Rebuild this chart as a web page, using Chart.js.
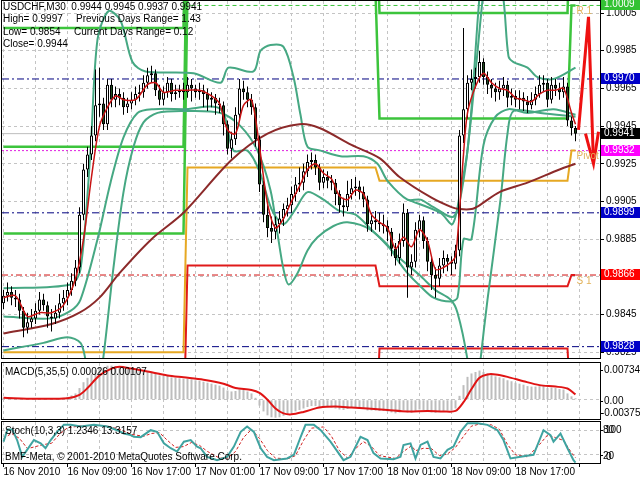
<!DOCTYPE html>
<html>
<head>
<meta charset="utf-8">
<script src="https://cdn.jsdelivr.net/npm/chart.js@4.4.1/dist/chart.umd.min.js"></script>
<style>
  html, body { margin: 0; padding: 0; background: #fff; }
  #wrap { position: relative; width: 640px; height: 480px; overflow: hidden; background: #fff; }
  #wrap canvas { position: absolute; left: 0; }
</style>
</head>
<body>
<div id="wrap">
  <canvas id="mainChart" width="640" height="360" style="top:0"></canvas>
  <canvas id="macdChart" width="640" height="60" style="top:360px"></canvas>
  <canvas id="stochChart" width="640" height="60" style="top:420px"></canvas>
</div>
<script>
// USDCHF M30 bars, 16 Nov 01:00 -> 19 Nov 00:30 (one entry per bar)
const opens = [
  0.9851,0.9855,0.9857,0.9854,0.9853,0.9847,0.9838,0.9841,0.9843,0.9847,
  0.9853,0.9850,0.9844,0.9843,0.9846,0.9851,0.9854,0.9858,0.9863,0.9870,
  0.9898,0.9922,0.9930,0.9940,0.9956,0.9957,0.9946,0.9967,0.9959,0.9962,
  0.9960,0.9955,0.9957,0.9959,0.9962,0.9963,0.9968,0.9972,0.9973,0.9964,
  0.9959,0.9963,0.9968,0.9962,0.9963,0.9964,0.9963,0.9967,0.9965,0.9963,
  0.9964,0.9962,0.9959,0.9960,0.9957,0.9956,0.9946,0.9933,0.9938,0.9951,
  0.9965,0.9963,0.9959,0.9955,0.9938,0.9914,0.9898,0.9891,0.9889,0.9893,
  0.9896,0.9901,0.9903,0.9909,0.9914,0.9915,0.9921,0.9926,0.9927,0.9923,
  0.9915,0.9918,0.9916,0.9915,0.9909,0.9903,0.9902,0.9909,0.9912,0.9913,
  0.9910,0.9906,0.9893,0.9895,0.9894,0.9893,0.9892,0.9889,0.9880,0.9875,
  0.9884,0.9899,0.9870,0.9873,0.9890,0.9895,0.9884,0.9873,0.9866,0.9864,
  0.9871,0.9875,0.9873,0.9872,0.9879,0.9940,0.9954,0.9968,0.9970,0.9971,
  0.9979,0.9971,0.9967,0.9965,0.9963,0.9965,0.9967,0.9960,0.9961,0.9959,
  0.9960,0.9958,0.9956,0.9959,0.9962,0.9967,0.9968,0.9959,0.9967,0.9965,
  0.9963,0.9966,0.9948,0.9944
];
const highs = [
  0.9858,0.9862,0.9860,0.9858,0.9856,0.9849,0.9846,0.9848,0.9851,0.9857,
  0.9856,0.9852,0.9848,0.9850,0.9856,0.9858,0.9862,0.9867,0.9874,0.9902,
  0.9925,0.9934,0.9945,0.9975,0.9976,0.9960,0.9970,0.9970,0.9966,0.9965,
  0.9963,0.9960,0.9963,0.9966,0.9967,0.9972,0.9976,0.9977,0.9975,0.9967,
  0.9966,0.9971,0.9970,0.9967,0.9967,0.9968,0.9971,0.9970,0.9967,0.9968,
  0.9967,0.9965,0.9963,0.9962,0.9960,0.9958,0.9948,0.9942,0.9955,0.9970,
  0.9969,0.9966,0.9962,0.9957,0.9940,0.9916,0.9903,0.9897,0.9897,0.9900,
  0.9904,0.9907,0.9913,0.9918,0.9923,0.9925,0.9930,0.9931,0.9930,0.9925,
  0.9922,0.9921,0.9919,0.9917,0.9911,0.9907,0.9916,0.9917,0.9918,0.9916,
  0.9913,0.9908,0.9899,0.9900,0.9899,0.9898,0.9895,0.9891,0.9883,0.9888,
  0.9904,0.9901,0.9877,0.9894,0.9898,0.9897,0.9886,0.9876,0.9870,0.9875,
  0.9879,0.9877,0.9876,0.9882,0.9943,0.9997,0.9972,0.9975,0.9976,0.9985,
  0.9981,0.9974,0.9970,0.9968,0.9969,0.9971,0.9969,0.9965,0.9964,0.9964,
  0.9963,0.9961,0.9963,0.9966,0.9972,0.9972,0.9970,0.9971,0.9970,0.9968,
  0.9971,0.9968,0.9950,0.9945
];
const lows = [
  0.9848,0.9852,0.9850,0.9849,0.9843,0.9833,0.9835,0.9838,0.9840,0.9845,
  0.9847,0.9838,0.9836,0.9840,0.9843,0.9847,0.9850,0.9855,0.9860,0.9867,
  0.9895,0.9918,0.9927,0.9937,0.9950,0.9943,0.9943,0.9955,0.9955,0.9956,
  0.9951,0.9952,0.9954,0.9956,0.9958,0.9960,0.9965,0.9968,0.9961,0.9956,
  0.9956,0.9960,0.9958,0.9959,0.9960,0.9959,0.9960,0.9958,0.9960,0.9959,
  0.9955,0.9953,0.9955,0.9951,0.9952,0.9940,0.9930,0.9928,0.9935,0.9948,
  0.9959,0.9955,0.9951,0.9934,0.9910,0.9894,0.9886,0.9883,0.9885,0.9888,
  0.9892,0.9897,0.9899,0.9905,0.9910,0.9911,0.9918,0.9922,0.9919,0.9911,
  0.9912,0.9912,0.9911,0.9903,0.9899,0.9897,0.9900,0.9906,0.9908,0.9906,
  0.9902,0.9889,0.9889,0.9890,0.9889,0.9888,0.9884,0.9876,0.9871,0.9872,
  0.9881,0.9854,0.9866,0.9870,0.9886,0.9880,0.9868,0.9858,0.9854,0.9860,
  0.9867,0.9868,0.9866,0.9869,0.9876,0.9936,0.9949,0.9964,0.9965,0.9968,
  0.9967,0.9962,0.9960,0.9958,0.9959,0.9961,0.9955,0.9956,0.9955,0.9954,
  0.9953,0.9952,0.9954,0.9956,0.9960,0.9963,0.9955,0.9957,0.9961,0.9959,
  0.9960,0.9945,0.9940,0.9937
];
const closes = [
  0.9855,0.9857,0.9854,0.9853,0.9847,0.9838,0.9841,0.9843,0.9847,0.9853,
  0.9850,0.9844,0.9843,0.9846,0.9851,0.9854,0.9858,0.9863,0.9870,0.9898,
  0.9922,0.9930,0.9940,0.9956,0.9957,0.9946,0.9967,0.9959,0.9962,0.9960,
  0.9955,0.9957,0.9959,0.9962,0.9963,0.9968,0.9972,0.9973,0.9964,0.9959,
  0.9963,0.9968,0.9962,0.9963,0.9964,0.9963,0.9967,0.9965,0.9963,0.9964,
  0.9962,0.9959,0.9960,0.9957,0.9956,0.9946,0.9933,0.9938,0.9951,0.9965,
  0.9963,0.9959,0.9955,0.9938,0.9914,0.9898,0.9891,0.9889,0.9893,0.9896,
  0.9901,0.9903,0.9909,0.9914,0.9915,0.9921,0.9926,0.9927,0.9923,0.9915,
  0.9918,0.9916,0.9915,0.9909,0.9903,0.9902,0.9909,0.9912,0.9913,0.9910,
  0.9906,0.9893,0.9895,0.9894,0.9893,0.9892,0.9889,0.9880,0.9875,0.9884,
  0.9899,0.9870,0.9873,0.9890,0.9895,0.9884,0.9873,0.9866,0.9864,0.9871,
  0.9875,0.9873,0.9872,0.9879,0.9940,0.9954,0.9968,0.9970,0.9971,0.9979,
  0.9971,0.9967,0.9965,0.9963,0.9965,0.9967,0.9960,0.9961,0.9959,0.9960,
  0.9958,0.9956,0.9959,0.9962,0.9967,0.9968,0.9959,0.9967,0.9965,0.9963,
  0.9966,0.9948,0.9944,0.9941
];

// indicator lines as [bar, value]
const redMa = [[0,0.9854],[3,0.9855],[6,0.9844],[9,0.9846],[12,0.9846],[15,0.9850],[18,0.9864],[20,0.9885],[22,0.9918],[24,0.9945],[26,0.9955],[28,0.9961],[30,0.9959],[33,0.9959],[36,0.9967],[38,0.9968],[40,0.9963],[43,0.9964],[46,0.9964],[49,0.9964],[52,0.9961],[54,0.9957],[56,0.9943],[58,0.9941],[60,0.9956],[62,0.9959],[64,0.9934],[66,0.9904],[68,0.9891],[70,0.9896],[72,0.9905],[74,0.9913],[76,0.9922],[78,0.9925],[80,0.9920],[82,0.9917],[84,0.9908],[86,0.9906],[88,0.9911],[90,0.9909],[92,0.9898],[94,0.9894],[96,0.9891],[98,0.9880],[100,0.9886],[102,0.9881],[104,0.9890],[106,0.9884],[108,0.9869],[110,0.9870],[112,0.9873],[113,0.9876],[114,0.9900],[115,0.9930],[116,0.9952],[118,0.9966],[120,0.9973],[122,0.9968],[124,0.9965],[126,0.9964],[128,0.9960],[130,0.9959],[132,0.9958],[134,0.9962],[136,0.9964],[138,0.9964],[140,0.9965],[142,0.9952],[143,0.9946]];
const brownMa = [[0,0.9835],[12,0.9840],[19,0.9846],[24,0.9854],[29,0.9867],[37,0.9885],[45,0.9899],[57,0.9927],[66,0.9941],[74,0.9946],[79,0.9944],[87,0.9935],[94,0.9928],[99,0.9918],[107,0.9907],[112,0.9902],[114,0.9901],[117,0.9901],[119,0.9903],[124,0.9910],[131,0.9915],[139,0.9922],[143,0.9925]];
const bandUpper = [[0,0.9859],[16.75,0.9861],[19.25,0.9869],[21.75,0.9932],[23.5,0.9991],[26.25,1.0006],[29.25,1.0001],[32.25,0.9979],[35.5,0.9974],[47.5,0.9973],[54.25,0.9968],[56.25,0.9976],[62.5,0.9974],[64.25,0.9985],[66.75,0.9988],[70,0.9987],[72.5,0.9971],[74.25,0.9951],[76,0.9934],[79.25,0.9932],[84.25,0.9929],[90,0.9929],[93.5,0.9925],[96,0.9916],[101,0.9906],[104.25,0.9906],[107.5,0.9902],[112.5,0.9897],[114.75,0.9913],[116.75,0.9948],[118.75,1.0007],[120.5,1.0044],[123,1.0033],[125,1.0012],[126.25,0.9982],[127.5,0.9979],[131,0.9976],[133.5,0.9971],[137.5,0.9970],[143,0.9976]];
const bandLower = [[0,0.9844],[11.75,0.9843],[16.75,0.9847],[19.25,0.9853],[23.5,0.9885],[26.75,0.9915],[30,0.9939],[33.5,0.9952],[37.5,0.9954],[45,0.9954],[54.25,0.9954],[57.5,0.9932],[61,0.9932],[64,0.9921],[67,0.9901],[70,0.9893],[73,0.9901],[76,0.9910],[80,0.9906],[84,0.9900],[88,0.9898],[92,0.9890],[96,0.9882],[98.5,0.9874],[101,0.9867],[104.25,0.9860],[107.5,0.9854],[111.75,0.9852],[113.5,0.9854],[115,0.9885],[117,0.9885],[120,0.9935],[123,0.9950],[126.25,0.9954],[131,0.9952],[137.5,0.9954],[143,0.9951]];
const bandUpperWide = [[101,0.9906],[109.25,0.9899],[112.25,0.9893],[114.25,0.9911],[116,0.9932],[119.75,1.0012],[121.75,1.0054],[143,1.0060]];
const bandLowerWide = [[0,0.9826],[10,0.9830],[16,0.9833],[19.25,0.9830],[20.5,0.9821],[23,0.9795],[25,0.9823],[27.5,0.9870],[30,0.9910],[32.5,0.9934],[35,0.9947],[38.5,0.9952],[45,0.9953],[54.25,0.9952],[59.25,0.9945],[63.5,0.9932],[66.75,0.9911],[68.5,0.9888],[70,0.9869],[71.25,0.9861],[73.5,0.9867],[76,0.9879],[78.5,0.9886],[82.5,0.9892],[86,0.9894],[91.75,0.9890],[98.5,0.9876],[104,0.9866],[108,0.9858],[111.75,0.9853],[113.5,0.9846],[116,0.9821],[117.75,0.9790],[119.25,0.9821],[121,0.9853],[124.25,0.9906],[126,0.9941],[127.5,0.9953],[134.25,0.9952],[143,0.9950]];

// daily pivot levels (16, 17, 18, 19 Nov)
const dayStart = [0, 46, 94, 142];
const dayEnd = [45, 93, 141, 143];
const pivotP = [0.9825, 0.9923, 0.9916, 0.9932];
const pivotR1 = [0.9888, 1.0016, 0.9949, 1.0009];
const pivotR2 = [0.9934, 1.0065, 1.0005, 1.0075];
const pivotR3 = [0.9997, 1.0110, 1.0040, 1.0120];
const pivotS1 = [0.9780, 0.9871, 0.9860, 0.9866];
const pivotS2 = [0.9715, 0.9780, 0.9827, 0.9789];
const pivotNames = ['R 1', 'Pivot', 'S 1'];
const pivotNameValues = [1.0009, 0.9932, 0.9866];

// horizontal levels and the hand-drawn forecast arrow
const navyLevels = [0.9970, 0.9899, 0.9828];
const magentaLevel = 0.9932;
const redLevel = 0.9866;
const bidLevel = 0.9941;
const greenLevel = 1.0009;
const forecastPath = [[143.75,0.9943],[146.25,1.0003],[147.5,0.9925]];
const forecastHead = [[145.5,0.9941],[147.5,0.9925],[148.75,0.9942]];

const priceTicks = [1.0005, 0.9985, 0.9965, 0.9945, 0.9925, 0.9905, 0.9885, 0.9865, 0.9845, 0.9825];
const priceBoxes = [1.0009, 0.9970, 0.9941, 0.9932, 0.9899, 0.9866, 0.9828];
const headerText = ['USDCHF,M30  0.9944 0.9945 0.9937 0.9941', 'High= 0.9997', 'Previous Days Range= 1.43', 'Low= 0.9854', 'Current Days Range= 0.12', 'Close= 0.9944'];

// MACD(5,35,5)
const macdMain = [
  0.0004,0.0005,0.0004,0.0003,0.0002,0.0000,-0.0001,0.0000,0.0001,0.0002,
  0.0002,0.0001,0.0001,0.0002,0.0003,0.0004,0.0006,0.0009,0.0013,0.0024,
  0.0036,0.0045,0.0053,0.0061,0.0066,0.0066,0.0070,0.0070,0.0069,0.0068,
  0.0066,0.0064,0.0062,0.0060,0.0059,0.0058,0.0057,0.0056,0.0053,0.0050,
  0.0049,0.0049,0.0046,0.0045,0.0044,0.0043,0.0043,0.0042,0.0040,0.0039,
  0.0037,0.0035,0.0033,0.0031,0.0029,0.0025,0.0019,0.0017,0.0018,0.0021,
  0.0020,0.0017,0.0013,0.0004,-0.0012,-0.0024,-0.0032,-0.0036,-0.0037,-0.0036,
  -0.0033,-0.0030,-0.0027,-0.0024,-0.0021,-0.0018,-0.0015,-0.0013,-0.0013,-0.0015,
  -0.0015,-0.0015,-0.0016,-0.0018,-0.0020,-0.0021,-0.0019,-0.0017,-0.0016,-0.0017,
  -0.0018,-0.0022,-0.0022,-0.0022,-0.0023,-0.0023,-0.0024,-0.0026,-0.0028,-0.0026,
  -0.0021,-0.0026,-0.0027,-0.0023,-0.0020,-0.0021,-0.0024,-0.0026,-0.0027,-0.0025,
  -0.0023,-0.0022,-0.0022,-0.0018,0.0008,0.0030,0.0047,0.0054,0.0057,0.0060,
  0.0057,0.0054,0.0051,0.0048,0.0046,0.0044,0.0040,0.0038,0.0035,0.0033,
  0.0031,0.0028,0.0027,0.0027,0.0028,0.0028,0.0024,0.0025,0.0024,0.0022,
  0.0021,0.0013,0.0007,0.0003
];
const macdSignal = [[0,0.0004],[8,0.0002],[16,0.0003],[19,0.0010],[21,0.0024],[24,0.0050],[27,0.0064],[29,0.0068],[32,0.0064],[36,0.0058],[41,0.0050],[45,0.0046],[50,0.0041],[55,0.0033],[58,0.0024],[62,0.0020],[64,0.0014],[66,0.0000],[68,-0.0018],[70,-0.0028],[72,-0.0030],[75,-0.0025],[79,-0.0016],[83,-0.0014],[87,-0.0016],[91,-0.0018],[96,-0.0021],[101,-0.0024],[106,-0.0023],[110,-0.0024],[113,-0.0023],[115,-0.0005],[117,0.0022],[119,0.0045],[121,0.0052],[123,0.0052],[126,0.0047],[130,0.0038],[134,0.0030],[138,0.0027],[141,0.0023],[143,0.0011]];
const macdAxisValues = [0.00734, 0, -0.00375];
const macdAxisText = ['0.00734', '0.00', '-0.00375'];

// Stochastic(10,3,3)
const stochMain = [[0,52],[1,82],[2.2,82],[3.4,56],[4.7,15],[5.9,32],[7.6,56],[9.3,48],[10.5,36],[11.8,56],[13.4,76],[15.1,93],[16.8,93],[19.3,89],[22.6,93],[26,89],[28.4,80],[30.1,72],[31.8,68],[32.6,64],[34.3,63],[36.8,80],[38.4,76],[40.1,48],[41.8,36],[43.4,28],[45.1,52],[46.8,56],[48.4,40],[49.3,36],[50.9,15],[53.4,7],[55.9,15],[57.6,40],[59.3,76],[60.9,89],[62.6,76],[64.3,36],[65.9,15],[67.6,7],[70.9,11],[72.6,20],[74.3,64],[75.5,93],[77.6,93],[79.3,80],[81.75,52],[85,7],[86.75,15],[89.25,64],[91,56],[92.5,24],[94.25,11],[97.5,9],[99.25,15],[100,44],[101.75,48],[103,11],[104.25,44],[106,52],[107.5,15],[109.25,11],[111,32],[112.5,40],[114.25,76],[116,97],[118.5,97],[121,93],[123.5,80],[125,56],[126.75,11],[129.25,15],[132.5,20],[135,80],[136.75,68],[137.5,52],[139.25,72],[141,36],[142.5,7],[143,1]];
const stochSignal = [[0,60],[2,72],[4,60],[6,35],[8,40],[10,45],[12,48],[14,70],[16,86],[19,90],[23,92],[26,90],[29,82],[32,70],[35,65],[37,72],[39,74],[41,55],[43,38],[45,40],[47,50],[49,43],[51,28],[54,12],[56,12],[58,28],[60,62],[62,82],[64,60],[66,30],[68,12],[71,10],[73,18],[75,55],[77,85],[80,88],[82,65],[84,30],[86,12],[88,35],[90,52],[92,40],[94,18],[98,11],[100,28],[102,42],[103,30],[105,36],[107,35],[109,18],[111,22],[113,38],[115,65],[117,90],[119,95],[122,93],[124,82],[126,45],[128,20],[131,15],[134,45],[136,68],[138,62],[140,55],[142,25],[143,13]];
const stochLevels = [80, 20];

// time axis
const gridBars = [0,8,16,24,32,40,48,56,64,72,80,88,96,104,112,120,128,136,144];
const labelBars = [0,16,32,48,64,80,96,112,128];
const timeLabels = ['16 Nov 2010','16 Nov 09:00','16 Nov 17:00','17 Nov 01:00','17 Nov 09:00','17 Nov 17:00','18 Nov 01:00','18 Nov 09:00','18 Nov 17:00'];

const X_MIN = -0.375, X_MAX = 149.125;
const FONT = '10px "Liberation Sans", Arial, sans-serif';
const GRID = '#c4c4c4';

Chart.defaults.font.family = '"Liberation Sans", Arial, sans-serif';
Chart.defaults.font.size = 10;
Chart.defaults.color = '#000';

const pts = arr => arr.map(([x, y]) => ({ x, y }));
const steps = vals => vals.flatMap((v, d) => [{ x: dayStart[d], y: v }, { x: dayEnd[d], y: v }]);
const level = (v, from) => [{ x: from === undefined ? X_MIN : from, y: v }, { x: X_MAX, y: v }];
const line = (data, color, width, extra) => Object.assign({
  type: 'line', data, borderColor: color, borderWidth: width,
  pointRadius: 0, fill: false, tension: 0
}, extra || {});

function xScale(withLabels) {
  return {
    type: 'linear', min: X_MIN, max: X_MAX, offset: false,
    afterBuildTicks: s => { s.ticks = gridBars.map(v => ({ value: v })); },
    afterFit: s => { s.height = withLabels ? 17 : 0; s.paddingLeft = 0; s.paddingRight = 0; },
    grid: {
      color: GRID, offset: false, drawTicks: withLabels, tickLength: 4,
      tickColor: c => (c.tick && c.tick.value % 16 === 0) ? '#000' : 'rgba(0,0,0,0)'
    },
    border: { display: false, dash: [3, 3] },
    ticks: {
      display: withLabels, autoSkip: false, maxRotation: 0, minRotation: 0,
      align: 'start', padding: -1,
      callback: v => { const k = labelBars.indexOf(v); return k >= 0 ? timeLabels[k] : ''; }
    }
  };
}

const frame = {
  id: 'frame',
  afterDraw(chart) {
    const { ctx, chartArea: a } = chart;
    ctx.save();
    ctx.strokeStyle = '#000';
    ctx.lineWidth = 1;
    ctx.strokeRect(Math.round(a.left) - 0.5, Math.round(a.top) - 0.5,
      Math.round(a.right - a.left) + 1, Math.round(a.bottom - a.top) + 1);
    ctx.restore();
  }
};

const boxColors = ['#33c233', '#0000c8', '#000000', '#ff00ff', '#0000c8', '#ff0000', '#0000c8'];

const mainOverlay = {
  id: 'mainOverlay',
  afterDraw(chart) {
    const { ctx } = chart;
    const xs = chart.scales.x, ys = chart.scales.y;
    ctx.save();
    ctx.font = FONT;
    ctx.textBaseline = 'middle';
    ctx.fillStyle = '#000';
    ctx.fillText(headerText[0], 3, 7);
    ctx.fillText(headerText[1], 3, 19);
    ctx.fillText(headerText[2], 76, 19);
    ctx.fillText(headerText[3], 3, 32);
    ctx.fillText(headerText[4], 74, 32);
    ctx.fillText(headerText[5], 3, 44);

    ctx.fillStyle = '#e2b25a';
    ctx.textBaseline = 'top';
    pivotNames.forEach((n, k) => {
      ctx.fillText(n, xs.getPixelForValue(143) + 1, ys.getPixelForValue(pivotNameValues[k]) + 1);
    });

    ctx.textBaseline = 'middle';
    priceBoxes.forEach((v, k) => {
      const py = Math.round(ys.getPixelForValue(v)) - 1;
      ctx.fillStyle = boxColors[k];
      ctx.fillRect(601, py - 5, 39, 11);
      ctx.fillStyle = '#fff';
      ctx.fillText(v.toFixed(4), 604, py + 0.5);
    });
    ctx.restore();
  }
};

const macdOverlay = {
  id: 'macdOverlay',
  afterDraw(chart) {
    const { ctx } = chart;
    const ys = chart.scales.y;
    const shift = [6, 1, -5];
    const xAt = [604, 604, 601];
    ctx.save();
    ctx.font = FONT;
    ctx.textBaseline = 'middle';
    ctx.fillStyle = '#000';
    ctx.fillText('MACD(5,35,5) 0.00026 0.00107', 5, 12);
    macdAxisValues.forEach((v, k) => {
      const py = Math.round(ys.getPixelForValue(v)) + shift[k];
      ctx.fillRect(600, py, 3, 1);
      ctx.fillText(macdAxisText[k], xAt[k], py);
    });
    ctx.restore();
  }
};

const stochOverlay = {
  id: 'stochOverlay',
  afterDraw(chart) {
    const { ctx } = chart;
    const ys = chart.scales.y;
    ctx.save();
    ctx.font = FONT;
    ctx.textBaseline = 'middle';
    ctx.fillStyle = '#000';
    ctx.fillText('Stoch(10,3,3) 1.2346 13.3157', 5, 11);
    ctx.fillText('BMF-Meta, \u00a9 2001-2010 MetaQuotes Software Corp.', 5, 37);
    const y80 = Math.round(ys.getPixelForValue(80));
    const y20 = Math.round(ys.getPixelForValue(20));
    ctx.fillRect(600, y80, 3, 1);
    ctx.fillRect(600, y20, 3, 1);
    ctx.fillText('80', 603, y80);
    ctx.fillText('100', 605, y80);
    ctx.fillText('20', 603, y20 + 1);
    ctx.fillText('0', 606, y20 + 2);
    ctx.restore();
  }
};

const baseOptions = {
  responsive: false,
  animation: false,
  devicePixelRatio: 1,
  events: [],
  plugins: { legend: { display: false }, tooltip: { enabled: false } }
};

// ---------- main price panel ----------
const GREEN = '#3cc43c', GOLD = '#e6a823', PIVRED = '#e01a1a', BAND = '#46a883';

new Chart(document.getElementById('mainChart'), {
  type: 'line',
  data: {
    datasets: [
      line(pts(forecastPath), '#ee1111', 3, { order: 1 }),
      line(pts(forecastHead), '#ee1111', 3, { order: 1 }),
      line(pts(redMa), '#c81414', 1.5, { order: 2, tension: 0.3 }),
      {
        type: 'bar', order: 3,
        data: opens.map((o, i) => ({ x: i, y: [o, closes[i]] })),
        backgroundColor: c => closes[c.dataIndex] >= opens[c.dataIndex] ? '#ffffff' : '#1e4d1e',
        borderColor: '#000', borderWidth: 1, borderSkipped: false, inflateAmount: 0,
        grouped: false, maxBarThickness: 3, categoryPercentage: 1, barPercentage: 1
      },
      {
        type: 'bar', order: 4,
        data: lows.map((l, i) => ({ x: i, y: [l, highs[i]] })),
        backgroundColor: '#000', borderWidth: 0, inflateAmount: 0,
        grouped: false, maxBarThickness: 1, categoryPercentage: 1, barPercentage: 1
      },
      line(pts(brownMa), '#8c2a2a', 2, { order: 5, tension: 0.3 }),
      line(pts(bandUpper), BAND, 2, { order: 6, tension: 0.3 }),
      line(pts(bandLower), BAND, 2, { order: 6, tension: 0.3 }),
      line(pts(bandUpperWide), BAND, 2, { order: 6, tension: 0.3 }),
      line(pts(bandLowerWide), BAND, 2, { order: 6, tension: 0.3 }),
      line(steps(pivotR1), GREEN, 2.5, { order: 7 }),
      line(steps(pivotR2), GREEN, 2.5, { order: 7 }),
      line(steps(pivotR3), GREEN, 2.5, { order: 7 }),
      line(steps(pivotP), GOLD, 2, { order: 7 }),
      line(steps(pivotS1), PIVRED, 2, { order: 7 }),
      line(steps(pivotS2), PIVRED, 2, { order: 7 }),
      line(level(bidLevel), '#bdbdbd', 1, { order: 8 }),
      line(level(magentaLevel), '#e020e0', 1, { order: 8, borderDash: [2, 2] }),
      line(level(redLevel), '#d01010', 1, { order: 8, borderDash: [6, 3, 2, 3] }),
      line(level(greenLevel, 45), GREEN, 1, { order: 8, borderDash: [4, 3] }),
      ...navyLevels.map(v => line(level(v), '#000080', 1, { order: 8, borderDash: [7, 3, 2, 3] }))
    ]
  },
  options: Object.assign({}, baseOptions, {
    layout: { padding: { left: 2, top: 1, right: 0, bottom: 2 } },
    scales: {
      x: xScale(false),
      y: {
        position: 'right', min: 0.982198, max: 1.001137,
        afterBuildTicks: s => { s.ticks = priceTicks.map(v => ({ value: v })); },
        afterFit: s => { s.width = 40; s.paddingTop = 0; s.paddingBottom = 0; },
        grid: { color: GRID, tickLength: 4, tickColor: '#000' },
        border: { display: false, dash: [3, 3] },
        ticks: { padding: 2, callback: v => v.toFixed(4) }
      }
    }
  }),
  plugins: [frame, mainOverlay]
});

// ---------- MACD panel ----------
new Chart(document.getElementById('macdChart'), {
  type: 'line',
  data: {
    datasets: [
      line(pts(macdSignal), '#e01414', 2, { order: 1, tension: 0.3 }),
      {
        type: 'bar', order: 2,
        data: macdMain.map((v, i) => ({ x: i, y: v })),
        backgroundColor: '#bdbdbd', borderWidth: 0, inflateAmount: 0,
        grouped: false, maxBarThickness: 2, categoryPercentage: 1, barPercentage: 1
      }
    ]
  },
  options: Object.assign({}, baseOptions, {
    layout: { padding: { left: 2, top: 3, right: 0, bottom: 1 } },
    scales: {
      x: xScale(false),
      y: {
        position: 'right', min: -0.003955, max: 0.007545,
        afterBuildTicks: s => { s.ticks = [{ value: 0 }]; },
        afterFit: s => { s.width = 40; s.paddingTop = 0; s.paddingBottom = 0; },
        grid: { color: GRID, drawTicks: false },
        border: { display: false, dash: [3, 3] },
        ticks: { display: false }
      }
    }
  }),
  plugins: [frame, macdOverlay]
});

// ---------- Stochastic panel ----------
new Chart(document.getElementById('stochChart'), {
  type: 'line',
  data: {
    datasets: [
      line(pts(stochMain), '#3fa3a0', 2, { order: 1 }),
      line(pts(stochSignal), '#d02020', 1, { order: 2, borderDash: [3, 2] })
    ]
  },
  options: Object.assign({}, baseOptions, {
    layout: { padding: { left: 2, top: 2, right: 0, bottom: 0 } },
    scales: {
      x: xScale(true),
      y: {
        position: 'right', min: 0, max: 100,
        afterBuildTicks: s => { s.ticks = stochLevels.map(v => ({ value: v })); },
        afterFit: s => { s.width = 40; s.paddingTop = 0; s.paddingBottom = 0; },
        grid: { color: GRID, drawTicks: false },
        border: { display: false, dash: [3, 3] },
        ticks: { display: false }
      }
    }
  }),
  plugins: [frame, stochOverlay]
});
</script>
</body>
</html>
